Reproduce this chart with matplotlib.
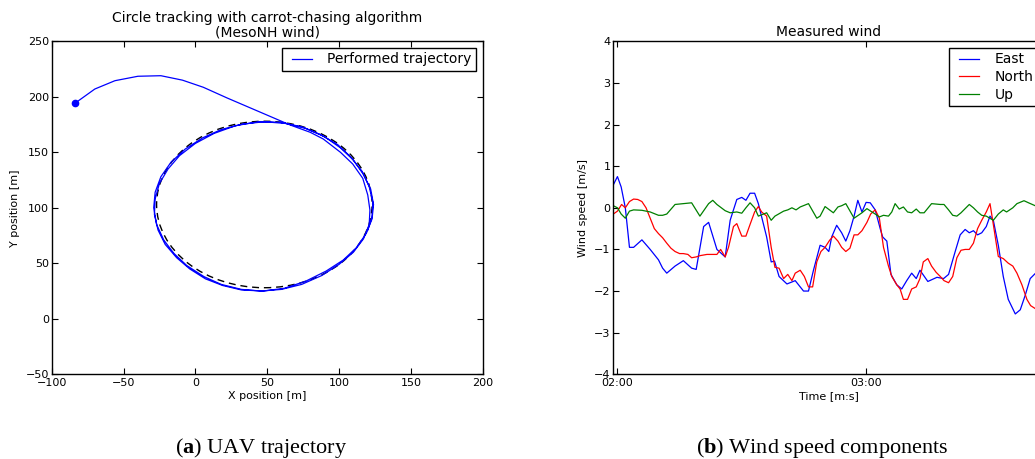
import matplotlib
matplotlib.use("Agg")
import matplotlib.pyplot as plt
from matplotlib.patches import Circle
from matplotlib.ticker import FuncFormatter, FixedLocator
from matplotlib.legend_handler import HandlerLine2D

plt.rcParams['font.family'] = ['DejaVu Sans']
plt.rcParams['mathtext.fontset'] = 'custom'
plt.rcParams['mathtext.rm'] = 'Liberation Serif'
plt.rcParams['mathtext.bf'] = 'Liberation Serif:bold'

# ---------------- data: trajectory ----------------
traj_x = [-84, -70, -56, -40, -24, -9, 5.5, 22, 66, 80, 89, 101, 109.5, 116.5, 120, 121.5,
          121, 117, 110, 100, 88, 74, 60, 46, 32, 18, 6, -6, -15, -22, -27, -29, -28, -24,
          -17, -7, 5, 18, 33, 48, 63, 77, 90, 101, 110, 117, 122, 124, 123, 119, 112, 103,
          91, 77, 62, 47, 32, 19, 7, -4, -13, -21, -26, -28.5, -28, -25, -19, -11, 0, 13,
          28, 44, 59, 74, 87, 99, 108, 116, 121, 123.5, 123, 120]
traj_y = [194, 207, 214.5, 218.5, 219, 215, 208.6, 199, 174.6, 168, 162, 150, 139.5, 126.6, 111.5, 98,
          85, 72, 60, 49, 39, 31, 26.5, 25, 26.5, 31, 38, 48, 59, 71, 85, 100, 114, 128,
          141, 153, 163, 170.5, 175.5, 177.5, 176, 171.5, 164, 154, 143, 130, 117, 103, 90, 77, 64, 53,
          43, 34, 27.5, 25, 26, 30, 36, 45, 55, 67, 80, 94, 108, 122, 135, 147, 158, 167,
          174, 177.5, 177, 173, 166, 157, 146, 133, 119, 105, 92, 80]
ref_center = (48, 103)
ref_radius = 75

# ---------------- data: wind ----------------
east_t = [119.0, 120.0, 120.9, 121.9, 122.9, 123.9, 125.9, 127.9, 129.9, 130.9, 131.9, 133.9, 135.9,
          137.9, 139.0, 140.8, 142.0, 144.0, 146.0, 147.2, 148.8, 150.0, 151.0, 152.0, 153.1, 154.0,
          156.0, 157.1, 157.9, 159.0, 160.9, 162.9, 164.9, 166.1, 167.3, 168.9, 170.1, 171.0, 171.7,
          172.9, 174.1, 175.1, 176.1, 177.1, 178.0, 179.0, 180.0, 181.0, 182.2, 183.4, 184.0, 185.0,
          186.0, 187.4, 188.6, 189.8, 191.0, 192.1, 193.0, 194.9, 197.1, 198.7, 199.9, 201.5, 202.7,
          203.9, 204.9, 205.9, 206.9, 207.9, 209.0, 209.9, 210.7, 211.9, 213.1, 214.3, 216.0, 217.2,
          218.4, 219.6, 220.8]
east_v = [0.55, 0.75, 0.5, 0.0, -0.95, -0.95, -0.77, -1.0, -1.25, -1.45, -1.57, -1.4, -1.27, -1.45,
          -1.48, -0.45, -0.35, -1.0, -1.18, -0.3, 0.2, 0.25, 0.18, 0.35, 0.35, 0.1, -0.7, -1.3, -1.28,
          -1.65, -1.83, -1.75, -2.0, -2.0, -1.5, -0.9, -0.95, -1.05, -0.7, -0.42, -0.6, -0.8, -0.55,
          -0.2, 0.18, -0.1, 0.13, 0.12, -0.05, -0.5, -0.7, -0.8, -1.6, -1.85, -1.95, -1.75, -1.57,
          -1.7, -1.5, -1.77, -1.67, -1.7, -1.6, -1.05, -0.65, -0.52, -0.6, -0.55, -0.65, -0.6, -0.45,
          -0.2, -0.3, -0.9, -1.65, -2.2, -2.55, -2.45, -2.1, -1.7, -1.58]

north_t = [119.0, 120.0, 121.0, 121.9, 122.9, 123.9, 124.9, 125.9, 126.9, 127.9, 128.9, 129.9, 130.9,
           131.9, 132.9, 133.9, 135.0, 135.9, 137.0, 137.9, 139.0, 139.9, 141.6, 144.0, 144.9, 146.0,
           146.8, 148.0, 148.8, 150.0, 151.0, 152.0, 153.1, 154.0, 154.8, 156.0, 157.1, 158.0, 159.0,
           160.1, 161.1, 162.1, 162.9, 164.1, 165.1, 166.1, 167.1, 168.1, 169.1, 170.1, 171.2, 172.1,
           173.2, 174.1, 175.1, 176.1, 177.1, 178.0, 179.0, 180.2, 181.1, 182.2, 183.2, 184.2, 185.4,
           186.2, 187.4, 188.2, 189.0, 190.0, 191.0, 192.1, 193.0, 193.8, 194.9, 195.8, 196.9, 197.9,
           198.8, 199.9, 200.9, 201.9, 202.9, 203.9, 204.9, 205.9, 206.9, 207.9, 209.0, 209.9, 210.7,
           211.9, 213.1, 214.3, 215.4, 216.4, 217.6, 218.8, 219.7, 220.8]
north_v = [-0.15, -0.08, 0.08, 0.0, 0.15, 0.21, 0.2, 0.15, 0.0, -0.25, -0.5, -0.62, -0.72, -0.85,
           -0.97, -1.05, -1.1, -1.1, -1.12, -1.2, -1.18, -1.15, -1.12, -1.12, -1.0, -1.18, -0.95,
           -0.45, -0.38, -0.68, -0.68, -0.4, -0.1, 0.03, -0.1, -0.2, -0.95, -1.43, -1.45, -1.7, -1.6,
           -1.75, -1.57, -1.5, -1.65, -1.9, -1.9, -1.3, -1.05, -0.95, -0.78, -0.68, -0.8, -0.95,
           -1.05, -0.97, -0.65, -0.65, -0.55, -0.35, -0.15, -0.05, -0.25, -0.95, -1.4, -1.65, -1.85,
           -1.95, -2.2, -2.2, -1.95, -1.9, -1.7, -1.3, -1.22, -1.4, -1.55, -1.65, -1.75, -1.8, -1.65,
           -1.2, -1.02, -1.0, -1.0, -0.85, -0.5, -0.3, -0.1, 0.1, -0.4, -1.17, -1.22, -1.33, -1.4,
           -1.57, -1.85, -2.2, -2.35, -2.42]

up_t = [119.0, 120.0, 120.9, 121.9, 122.9, 123.9, 125.9, 127.9, 129.9, 130.9, 131.9, 133.9, 135.9,
        137.9, 139.9, 142.0, 143.0, 144.0, 146.0, 147.2, 148.8, 150.0, 151.0, 152.0, 153.1, 154.0,
        156.0, 157.1, 158.0, 160.1, 161.1, 162.1, 163.1, 164.1, 166.1, 168.1, 168.9, 170.1, 172.1,
        173.2, 174.1, 175.1, 177.1, 179.0, 180.2, 181.1, 182.2, 183.2, 184.2, 185.4, 186.2, 187.0,
        188.0, 189.0, 190.0, 191.0, 192.1, 193.0, 194.0, 195.8, 197.9, 198.8, 199.9, 200.9, 201.9,
        202.9, 204.9, 205.9, 206.9, 207.9, 209.0, 210.7, 211.9, 213.1, 213.9, 215.4, 216.4, 218.1,
        219.2, 220.8]
up_v = [0.05, 0.0, -0.15, -0.25, -0.08, -0.05, -0.06, -0.1, -0.18, -0.18, -0.15, 0.08, 0.1, 0.12,
        -0.2, 0.1, 0.18, 0.08, -0.07, -0.12, -0.1, -0.13, 0.0, 0.12, 0.0, -0.2, -0.12, -0.3, -0.2,
        -0.08, -0.05, 0.0, -0.05, 0.02, 0.1, -0.25, -0.2, 0.03, -0.12, 0.02, 0.05, 0.1, -0.25, -0.12,
        -0.02, -0.08, -0.15, -0.22, -0.18, -0.2, -0.1, 0.1, -0.03, 0.02, -0.1, -0.12, -0.03, -0.12,
        -0.12, 0.1, 0.08, 0.08, -0.05, -0.18, -0.2, -0.12, 0.08, 0.0, -0.1, -0.18, -0.2, -0.3, -0.15,
        -0.05, -0.1, 0.0, 0.1, 0.17, 0.12, 0.05]

time_ticks = [120, 180, 240]
series_names = ["East", "North", "Up"]

# ---------------- figure ----------------
W, H = 1035, 459
fig = plt.figure(figsize=(W / 100, H / 100), dpi=100)
fig.patch.set_facecolor('white')

def px_axes(l, t, r, b):
    return fig.add_axes([l / W, 1 - b / H, (r - l) / W, (b - t) / H])

ax1 = px_axes(51.7, 41.3, 482.7, 374.3)
ax2 = px_axes(613.3, 41.3, 1044.3, 374.3)

handler = {matplotlib.lines.Line2D: HandlerLine2D(xpad=0.4)}
leg_kw = dict(fontsize=10, frameon=True, fancybox=False, shadow=False, framealpha=1,
              edgecolor='black', borderpad=0.3, handlelength=1.85, handletextpad=1.1,
              labelspacing=0.27, borderaxespad=0.5, handler_map=handler)

for ax in (ax1, ax2):
    ax.tick_params(direction='in', top=True, right=True, length=4, width=0.8,
                   labelsize=8, colors='black')
    ax.tick_params(axis='x', pad=3)
    ax.tick_params(axis='y', pad=2)
    for s in ax.spines.values():
        s.set_linewidth(1.0)
        s.set_color('black')

# ---- left: trajectory ----
ax1.add_patch(Circle(ref_center, ref_radius, fill=False, edgecolor='black', lw=1.0,
                     linestyle=(0, (5, 3.5)), zorder=2))
ax1.plot(traj_x, traj_y, color='#0000ff', lw=0.9, label='Performed trajectory', zorder=3)
ax1.plot([traj_x[0]], [traj_y[0]], 'o', color='#0000ff', markersize=4.5, zorder=4)
ax1.set_xlim(-100, 200)
ax1.set_ylim(-50, 250)
ax1.set_xticks(range(-100, 201, 50))
ax1.set_yticks(range(-50, 251, 50))
ax1.set_xlabel('X position [m]', fontsize=8, labelpad=2)
ax1.set_ylabel('Y position [m]', fontsize=8, labelpad=4)
ax1.set_title('Circle tracking with carrot-chasing algorithm\n(MesoNH wind)', fontsize=10,
              pad=3.5, linespacing=1.0)
ax1.legend(loc='upper right', **leg_kw)

# ---- right: wind ----
ax2.plot(east_t, east_v, color='#0000ff', lw=0.9, label=series_names[0])
ax2.plot(north_t, north_v, color='#ff0000', lw=0.9, label=series_names[1])
ax2.plot(up_t, up_v, color='#008000', lw=0.9, label=series_names[2])
ax2.set_xlim(119, 223)
ax2.set_ylim(-4, 4)
ax2.set_yticks(range(-4, 5))
ax2.xaxis.set_major_locator(FixedLocator(time_ticks))
ax2.xaxis.set_major_formatter(FuncFormatter(lambda v, p: f"{int(v // 60):02d}:{int(v % 60):02d}"))
ax2.set_xlabel('Time [m:s]', fontsize=8, labelpad=2)
ax2.set_ylabel('Wind speed [m/s]', fontsize=8, labelpad=4)
ax2.set_title('Measured wind', fontsize=10, pad=3.5)
ax2.legend(loc='upper right', **leg_kw)

# ---- captions ----
cap_kw = dict(fontsize=16, family='Liberation Serif', ha='center', va='baseline')
fig.text(261.5 / W, (H - 453) / H, r'($\mathbf{a}$) UAV trajectory', **cap_kw)
fig.text(822 / W, (H - 453) / H, r'($\mathbf{b}$) Wind speed components', **cap_kw)

fig.savefig('out.png', dpi=100, facecolor='white')
